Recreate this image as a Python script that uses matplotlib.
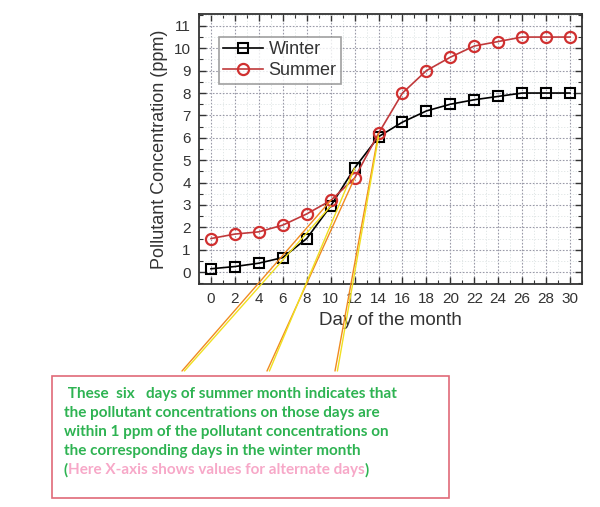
import matplotlib
matplotlib.use("Agg")
import matplotlib.pyplot as plt
from matplotlib.patches import Rectangle, ConnectionPatch
from matplotlib.ticker import MultipleLocator

days = [0, 2, 4, 6, 8, 10, 12, 14, 16, 18, 20, 22, 24, 26, 28, 30]
winter = [0.15, 0.25, 0.4, 0.65, 1.5, 2.95, 4.65, 6.05, 6.7, 7.2, 7.5, 7.7, 7.85, 8.0, 8.0, 8.0]
summer = [1.5, 1.7, 1.8, 2.1, 2.6, 3.2, 4.2, 6.2, 8.0, 9.0, 9.6, 10.1, 10.3, 10.5, 10.5, 10.5]
highlight_days = [10, 12, 14]
note_lines = [
    " These  six   days of summer month indicates that",
    "the pollutant concentrations on those days are",
    "within 1 ppm of the pollutant concentrations on",
    "the corresponding days in the winter month",
]
note_last = "Here X-axis shows values for alternate days"

plt.rcParams['font.family'] = ['Liberation Sans', 'DejaVu Sans']

W, H = 600, 507
fig = plt.figure(figsize=(6, 5.07), dpi=100)
ax = fig.add_axes([199 / W, 1 - 284 / H, 383 / W, 270 / H])

ax.plot(days, winter, color='black', lw=1.2, marker='s', ms=6.5, mfc='none',
        mec='black', mew=1.5, label='Winter', zorder=4)
ax.plot(days, summer, color='#c0393b', lw=1.2, marker='o', ms=8, mfc='none',
        mec='#d03030', mew=1.6, label='Summer', zorder=4)

ax.set_xlim(-1, 31)
ax.set_ylim(-0.53, 11.53)
ax.xaxis.set_major_locator(MultipleLocator(2))
ax.xaxis.set_minor_locator(MultipleLocator(1))
ax.yaxis.set_major_locator(MultipleLocator(1))
ax.yaxis.set_minor_locator(MultipleLocator(0.5))
ax.grid(which='major', ls=(0, (1.5, 1.5)), color='#9a9aa8', lw=0.8)
ax.grid(which='minor', ls=(0, (1.5, 2)), color='#dde3e3', lw=0.6)
ax.tick_params(which='both', direction='in', top=True, right=True, color='#333333')
ax.tick_params(which='major', length=5, width=1.0, labelsize=11, labelcolor='#333333', pad=6)
ax.tick_params(which='minor', length=3, width=0.8)
for s in ax.spines.values():
    s.set_color('#333333')
    s.set_linewidth(1.3)
ax.set_xlabel('Day of the month', fontsize=13.5, color='#333333', labelpad=4)
ax.set_ylabel('Pollutant Concentration (ppm)', fontsize=13, color='#333333', labelpad=4)

leg = ax.legend(loc='upper left', bbox_to_anchor=(0.052, 0.915), borderaxespad=0,
                fontsize=13, frameon=True, fancybox=False, handlelength=2.2,
                handletextpad=0.3, borderpad=0.25, labelspacing=0.2)
leg.get_frame().set_edgecolor('#888888')
leg.get_frame().set_linewidth(1.2)
for t in leg.get_texts():
    t.set_color('#333333')

# annotation box
bx0, bx1, by0, by1 = 52 / W, 449 / W, 1 - 498 / H, 1 - 376 / H
fig.patches.append(Rectangle((bx0, by0), bx1 - bx0, by1 - by0, transform=fig.transFigure,
                             fill=False, ec='#e06a78', lw=1.2))

# connector lines from box top to data points
origins_x = [182 / W, 267 / W, 335 / W]
oy = 1 - 371 / H
for ox, d in zip(origins_x, highlight_days):
    i = days.index(d)
    for vals, col, dx in ((summer, '#f08a20', 0.0), (winter, '#f0e020', 0.004)):
        cp = ConnectionPatch(xyA=(ox + dx, oy), coordsA='figure fraction',
                             xyB=(d, vals[i]), coordsB=ax.transData,
                             color=col, lw=1.0, zorder=5)
        fig.add_artist(cp)

green = '#2eb352'
pink = '#f7a8c8'
fam = ['Lato', 'DejaVu Sans']
fs = 11
tx = 64 / W
ty0 = 1 - 394 / H
dy = 19 / H
for k, line in enumerate(note_lines):
    fig.text(tx, ty0 - k * dy, line, fontsize=fs, fontweight='bold', color=green,
             va='center', ha='left', family=fam)

fig.canvas.draw()
r = fig.canvas.get_renderer()
yl = ty0 - 4 * dy
t1 = fig.text(tx, yl, "(", fontsize=fs, fontweight='bold', color=green,
              va='center', ha='left', family=fam)
w1 = t1.get_window_extent(r).width / (W)
t2 = fig.text(tx + w1, yl, note_last, fontsize=fs, fontweight='bold', color=pink,
              va='center', ha='left', family=fam)
w2 = t2.get_window_extent(r).width / (W)
fig.text(tx + w1 + w2, yl, ")", fontsize=fs, fontweight='bold', color=green,
         va='center', ha='left', family=fam)

fig.savefig('out.png', dpi=100)
